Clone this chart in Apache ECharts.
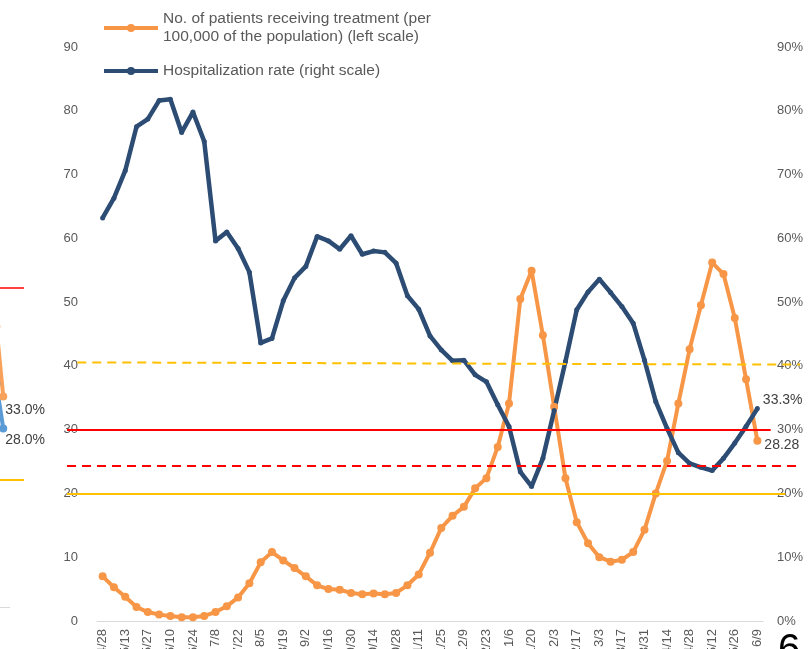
<!DOCTYPE html>
<html>
<head>
<meta charset="utf-8">
<script src="https://cdn.jsdelivr.net/npm/echarts@6/dist/echarts.min.js"></script>
<style>
  html, body { margin: 0; padding: 0; background: #fff; }
  #chart { width: 812px; height: 649px; }
</style>
</head>
<body>
<div id="chart"></div>
<script>
// weekly dates (labels shown every other week)
const weeks = [
  '4/28', '5/6', '5/13', '5/20', '5/27', '6/3', '6/10', '6/17', '6/24', '7/1',
  '7/8', '7/15', '7/22', '7/29', '8/5', '8/12', '8/19', '8/26', '9/2', '9/9',
  '9/16', '9/23', '9/30', '10/7', '10/14', '10/21', '10/28', '11/4', '11/11', '11/18',
  '11/25', '12/2', '12/9', '12/16', '12/23', '12/30', '1/6', '1/13', '1/20', '1/27',
  '2/3', '2/10', '2/17', '2/24', '3/3', '3/10', '3/17', '3/24', '3/31', '4/7',
  '4/14', '4/21', '4/28', '5/5', '5/12', '5/19', '5/26', '6/2', '6/9'
];

// patients receiving treatment per 100,000 (left scale)
const patients = [
  7.0, 5.3, 3.8, 2.2, 1.4, 1.0, 0.8, 0.6, 0.6, 0.8,
  1.4, 2.3, 3.7, 5.9, 9.2, 10.8, 9.5, 8.3, 7.0, 5.6,
  5.0, 4.9, 4.4, 4.2, 4.3, 4.2, 4.4, 5.6, 7.3, 10.7,
  14.6, 16.5, 17.9, 20.8, 22.4, 27.3, 34.1, 50.5, 54.9, 44.8,
  33.6, 22.4, 15.5, 12.2, 10.0, 9.3, 9.6, 10.8, 14.3, 20.0,
  25.1, 34.1, 42.6, 49.5, 56.2, 54.4, 47.5, 37.9, 28.28
];

// hospitalization rate % (right scale)
const hospRate = [
  63.2, 66.3, 70.6, 77.5, 78.7, 81.6, 81.8, 76.6, 79.8, 75.2,
  59.6, 61.0, 58.4, 54.7, 43.6, 44.3, 50.2, 53.8, 55.6, 60.3,
  59.6, 58.3, 60.4, 57.5, 58.0, 57.8, 56.1, 51.0, 48.9, 44.7,
  42.5, 40.8, 40.9, 38.6, 37.5, 33.9, 30.5, 23.4, 21.1, 25.5,
  33.0, 40.7, 48.8, 51.6, 53.6, 51.5, 49.3, 46.7, 40.9, 34.4,
  30.2, 26.4, 24.7, 24.1, 23.6, 25.5, 27.9, 30.5, 33.3
];

// reference levels drawn across the chart (left scale)
const yellowDashed = [40.55, 40.2];
const redSolid = 30;
const redDashed = 24.3;
const yellowSolid = 20;

// piece of the neighbouring chart visible at the left edge
const prevX = [8, 9];
const prevPatients = [44.0, 33.0];
const prevHosp = [35.0, 28.0];
const prevLevels = [50, 20];

const ORANGE = '#F79646';
const NAVY = '#2C4C74';
const TEXT = '#595959';
const FONT = 'Liberation Sans, Arial, sans-serif';

const patientsName = 'No. of patients receiving treatment (per 100,000 of the population) (left scale)';
const hospName = 'Hospitalization rate (right scale)';

function lastLabel(arr, label) {
  return arr.map((v, i) => i === arr.length - 1 ? { value: v, label: label } : v);
}

const chart = echarts.init(document.getElementById('chart'));

const option = {
  animation: false,
  textStyle: { fontFamily: FONT },
  legend: {
    data: [patientsName, hospName],
    orient: 'vertical',
    left: 97,
    top: 5,
    itemWidth: 54,
    itemHeight: 10,
    itemGap: 16,
    selectedMode: false,
    formatter: n => n.replace(' 100,000', '\n100,000'),
    textStyle: { color: TEXT, fontSize: 15.5, lineHeight: 18, fontFamily: FONT },
    lineStyle: { width: 4 }
  },
  grid: [
    { left: 97, right: 49, top: 47, bottom: 28, outerBoundsMode: 'none' },
    { left: 67, right: 12, top: 47, bottom: 28, outerBoundsMode: 'none' },
    { left: -59, right: 788, top: 33, bottom: 42, outerBoundsMode: 'none' }
  ],
  xAxis: [
    {
      type: 'category',
      gridIndex: 0,
      data: weeks,
      boundaryGap: true,
      axisLine: { lineStyle: { color: '#D9D9D9', width: 1 } },
      axisTick: { show: false },
      axisLabel: {
        rotate: 90, interval: 1, margin: 8,
        color: TEXT, fontSize: 13, fontFamily: FONT
      }
    },
    { type: 'value', gridIndex: 1, min: 0, max: 1, show: false },
    { type: 'value', gridIndex: 2, min: 0, max: 12, show: false }
  ],
  yAxis: [
    {
      type: 'value', gridIndex: 0, min: 0, max: 90, interval: 10,
      axisLine: { show: false }, axisTick: { show: false },
      splitLine: { show: false },
      axisLabel: { color: TEXT, fontSize: 13, margin: 19, fontFamily: FONT }
    },
    {
      type: 'value', gridIndex: 0, position: 'right', min: 0, max: 90, interval: 10,
      axisLine: { show: false }, axisTick: { show: false },
      splitLine: { show: false },
      axisLabel: { color: TEXT, fontSize: 13, margin: 14, formatter: '{value}%', fontFamily: FONT }
    },
    { type: 'value', gridIndex: 1, min: 0, max: 90, show: false },
    { type: 'value', gridIndex: 2, min: 0, max: 90, show: false }
  ],
  series: [
    {
      // reference lines
      name: 'levels',
      type: 'line',
      xAxisIndex: 1,
      yAxisIndex: 2,
      data: [],
      silent: true,
      markLine: {
        silent: true,
        symbol: 'none',
        label: { show: false },
        animation: false,
        data: [
          [{ coord: [0.014, yellowDashed[0]], lineStyle: { color: '#FFC000', width: 2, type: [9, 6] } },
           { coord: [1, yellowDashed[1]] }],
          [{ coord: [0, redSolid], lineStyle: { color: '#FF0000', width: 2, type: 'solid' } },
           { coord: [0.96, redSolid] }],
          [{ coord: [0, redDashed], lineStyle: { color: '#FF0000', width: 2, type: [9, 6] } },
           { coord: [1, redDashed] }],
          [{ coord: [0, yellowSolid], lineStyle: { color: '#FFC000', width: 2, type: 'solid' } },
           { coord: [0.98, yellowSolid] }]
        ]
      }
    },
    {
      name: 'prev patients',
      type: 'line',
      xAxisIndex: 2,
      yAxisIndex: 3,
      data: prevX.map((x, i) => [x, prevPatients[i]]),
      symbol: 'circle',
      symbolSize: 8,
      lineStyle: { color: '#F8A15A', width: 4 },
      itemStyle: { color: '#F8A15A' },
      label: {
        show: true, position: 'right', offset: [-7, 14],
        color: '#404040', fontSize: 14, fontFamily: FONT,
        formatter: p => p.dataIndex === prevX.length - 1 ? p.value[1].toFixed(1) + '%' : ''
      },
      markLine: {
        silent: true,
        symbol: 'none',
        label: { show: false },
        data: [
          [{ coord: [0, prevLevels[0]], lineStyle: { color: '#FF0000', width: 1.5, type: 'solid' } },
           { coord: [12, prevLevels[0]] }],
          [{ coord: [0, prevLevels[1]], lineStyle: { color: '#FFC000', width: 2, type: 'solid' } },
           { coord: [12, prevLevels[1]] }],
          [{ coord: [0, 0], lineStyle: { color: '#D9D9D9', width: 1, type: 'solid' } },
           { coord: [10, 0] }]
        ]
      }
    },
    {
      name: 'prev hosp',
      type: 'line',
      xAxisIndex: 2,
      yAxisIndex: 3,
      data: prevX.map((x, i) => [x, prevHosp[i]]),
      symbol: 'circle',
      symbolSize: 8,
      lineStyle: { color: '#5B9BD5', width: 4 },
      itemStyle: { color: '#5B9BD5' },
      label: {
        show: true, position: 'right', offset: [-7, 12],
        color: '#404040', fontSize: 14, fontFamily: FONT,
        formatter: p => p.dataIndex === prevX.length - 1 ? p.value[1].toFixed(1) + '%' : ''
      }
    },
    {
      name: patientsName,
      type: 'line',
      xAxisIndex: 0,
      yAxisIndex: 0,
      data: lastLabel(patients, {
        show: true, position: 'right', offset: [-2, 5],
        color: '#404040', fontSize: 14, fontFamily: FONT, formatter: '{c}'
      }),
      symbol: 'circle',
      symbolSize: 8,
      showAllSymbol: true,
      lineStyle: { color: ORANGE, width: 4 },
      itemStyle: { color: ORANGE }
    },
    {
      name: hospName,
      type: 'line',
      xAxisIndex: 0,
      yAxisIndex: 1,
      data: lastLabel(hospRate, {
        show: true, position: 'right', offset: [-2, -8],
        color: '#404040', fontSize: 14, fontFamily: FONT, formatter: '{c}%'
      }),
      symbol: 'circle',
      symbolSize: 5,
      showAllSymbol: true,
      lineStyle: { color: NAVY, width: 4.5 },
      itemStyle: { color: NAVY }
    }
  ],
  graphic: [
    {
      type: 'text',
      left: 778,
      top: 631,
      style: { text: '6', fontSize: 40, fill: '#000', fontFamily: FONT }
    }
  ]
};

chart.setOption(option);
</script>
</body>
</html>
